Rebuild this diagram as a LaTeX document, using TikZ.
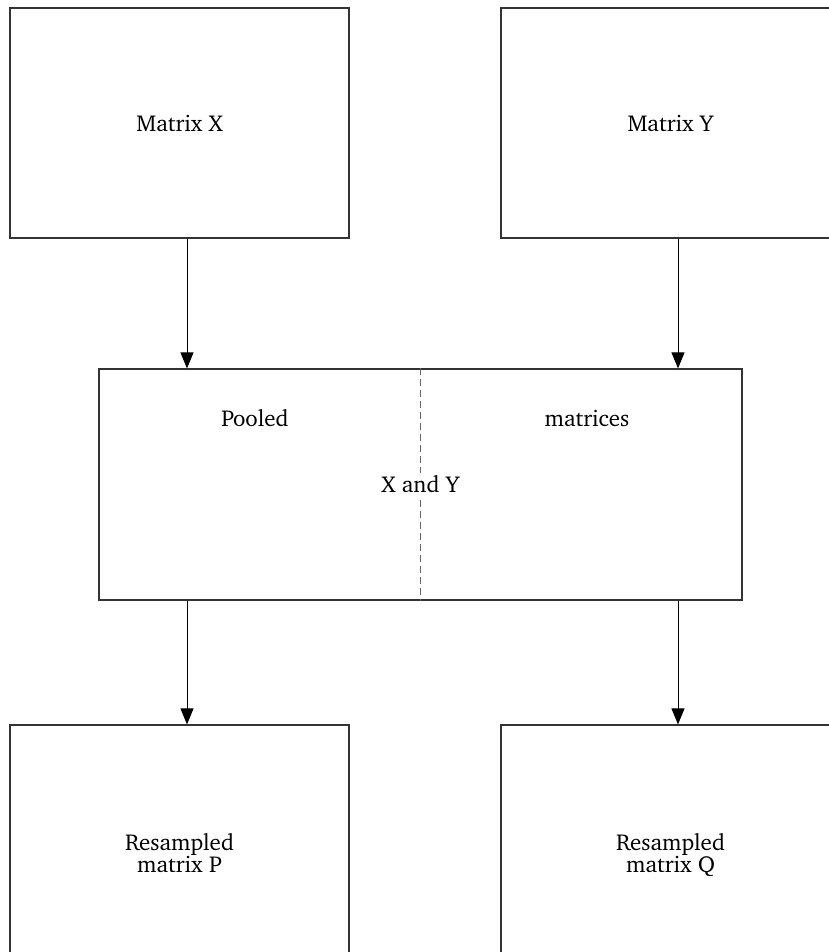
\documentclass[tikz,border=0pt]{standalone}
\usepackage[T1]{fontenc}
\usepackage{charter}
\usepackage{tikz}
\usetikzlibrary{arrows.meta}

\begin{document}
\begin{tikzpicture}[x=1pt,y=1pt,font=\fontsize{23}{22}\selectfont]
\tikzstyle{every node}+=[inner sep=0pt]
\tikzstyle{mbox}=[draw=black!80,line width=1.2pt,minimum width=339pt,minimum height=230pt,align=center]
\tikzstyle{flow}=[draw=black,line width=1pt,-{Triangle[length=16pt,width=13pt]}]
\useasboundingbox (0,0) rectangle (828,-952);
% input matrices
\node [mbox] (mx) at (179.5,-123) {Matrix X};
\node [mbox] (my) at (670.5,-123) {Matrix Y};
% pooled matrix
\node [mbox,minimum width=643pt,minimum height=231pt] (pool) at (420.5,-484.5) {};
\draw [black!60,line width=1pt,dashed,dash pattern=on 7pt off 4pt] (pool.north) -- (pool.south);
\node [fill=white,inner sep=3pt] (xy) at (pool.center) {X and Y};
\node (pl) at (255,-418) {Pooled};
\node (pm) at (587,-418) {matrices};
% resampled matrices
\node [mbox,minimum height=262pt] (rp) at (179.5,-856) {Resampled\\matrix P\strut};
\node [mbox,minimum height=262pt] (rq) at (670.5,-856) {Resampled\\matrix Q\strut};
% arrows
\coordinate (lx) at (187,0);
\coordinate (rx) at (678,0);
\draw [flow] (mx.south -| lx) -- (pool.north -| lx);
\draw [flow] (my.south -| rx) -- (pool.north -| rx);
\draw [flow] (pool.south -| lx) -- (rp.north -| lx);
\draw [flow] (pool.south -| rx) -- (rq.north -| rx);
\end{tikzpicture}
\end{document}
